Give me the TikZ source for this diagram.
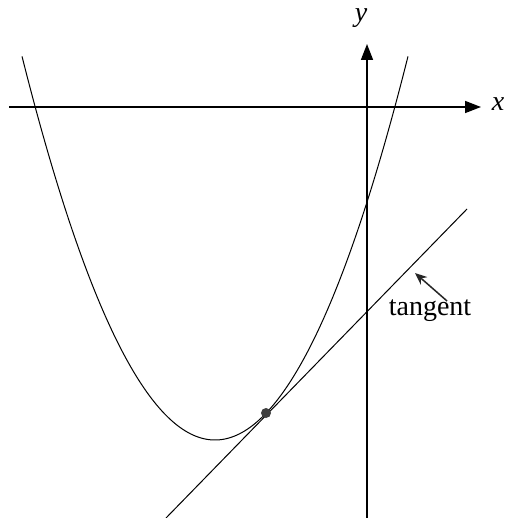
\documentclass[tikz,border=0pt]{standalone}
\usepackage{fontspec}
\setmainfont{Liberation Serif}
\usetikzlibrary{arrows.meta}
\begin{document}
\begin{tikzpicture}[x=1pt,y=-1pt,
  axis/.style={line width=1.6pt,-{Triangle[length=16pt,width=12pt]}},
  thin curve/.style={line width=1pt},
  lbl/.style={font=\fontsize{28}{32}\selectfont\itshape,inner sep=0pt},
  txt/.style={font=\fontsize{28}{32}\selectfont,inner sep=0pt}]
\useasboundingbox (0,0) rectangle (505,518);
% axes
\coordinate (xs) at (9,107);
\coordinate (xe) at (481,107);
\coordinate (ys) at (367,518);
\coordinate (ye) at (367,44);
\draw[axis] (xs) -- (xe);
\draw[axis] (ys) -- (ye);
\node[lbl] (xl) at (498,104) {x};
\node[lbl] (yl) at (361,18) {y};
% parabola
\draw[thin curve] plot[domain=22:408,samples=150] (\x,{440-1.03*((\x-215)/10)^2});
% tangent line
\coordinate (t1) at (166,518);
\coordinate (t2) at (467,209);
\draw[thin curve] (t1) -- (t2);
% point
\node[circle,fill=black!75,inner sep=0pt,minimum size=10pt] (P) at (266,413) {};
% label
\node[txt] (tl) at (430,311) {tangent};
\coordinate (at) at (447,301);
\coordinate (ah) at (415,273);
\draw[line width=1.5pt,-{Stealth[length=12pt,width=10pt]},black!85] (at) -- (ah);
\end{tikzpicture}
\end{document}
